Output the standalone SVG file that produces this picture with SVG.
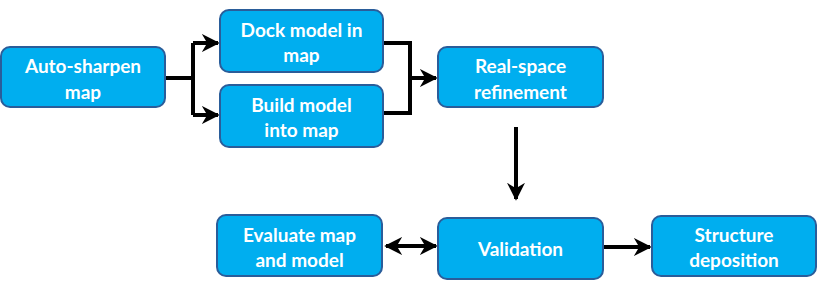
<svg xmlns="http://www.w3.org/2000/svg" width="818" height="291" viewBox="0 0 818 291">
  <style>
    .box { fill: #00aeef; stroke: #2a5d9a; stroke-width: 2; }
    .lbl { fill: #ffffff; font-family: Lato, "Open Sans", "Liberation Sans", sans-serif; font-weight: bold; font-size: 19px; text-anchor: middle; }
    .wire { fill: none; stroke: #000000; stroke-width: 4; }
  </style>
  <defs>
    <marker id="head" viewBox="0 0 10 10" refX="9" refY="5" markerWidth="4.5" markerHeight="4.5" orient="auto-start-reverse" markerUnits="strokeWidth">
      <path d="M0,0 L10,5 L0,10 L3,5 Z" fill="#000000"/>
    </marker>
  </defs>
  <rect width="818" height="291" fill="#ffffff"/>

  <g id="connectors">
    <!-- split from auto-sharpen into the two model paths -->
    <path class="wire" d="M165,78 H193"/>
    <path class="wire" d="M193,43 V115"/>
    <path class="wire" d="M193,43 H218" marker-end="url(#head)"/>
    <path class="wire" d="M193,115 H218" marker-end="url(#head)"/>
    <!-- merge into refinement -->
    <path class="wire" d="M383,43 H410 V113 H383"/>
    <path class="wire" d="M410,78 H436" marker-end="url(#head)"/>
    <!-- refinement down to validation -->
    <path class="wire" d="M516,127 V199" marker-end="url(#head)"/>
    <!-- evaluate <-> validation -->
    <path class="wire" d="M386,246 H436" marker-start="url(#head)" marker-end="url(#head)"/>
    <!-- validation to deposition -->
    <path class="wire" d="M603,247 H650" marker-end="url(#head)"/>
  </g>

  <g id="auto-sharpen">
    <rect class="box" x="1" y="47" width="164" height="60" rx="9"/>
    <text class="lbl" x="83" y="73">Auto-sharpen</text>
    <text class="lbl" x="83" y="99">map</text>
  </g>
  <g id="dock-model">
    <rect class="box" x="220" y="10" width="163" height="62" rx="9"/>
    <text class="lbl" x="301.5" y="37">Dock model in</text>
    <text class="lbl" x="301.5" y="62">map</text>
  </g>
  <g id="build-model">
    <rect class="box" x="220" y="85" width="163" height="62" rx="9"/>
    <text class="lbl" x="301.5" y="112">Build model</text>
    <text class="lbl" x="301.5" y="137">into map</text>
  </g>
  <g id="refinement">
    <rect class="box" x="438" y="47" width="165" height="60" rx="9"/>
    <text class="lbl" x="520.5" y="73">Real-space</text>
    <text class="lbl" x="520.5" y="99">refinement</text>
  </g>
  <g id="evaluate">
    <rect class="box" x="217" y="215" width="165" height="61" rx="9"/>
    <text class="lbl" x="299.5" y="242">Evaluate map</text>
    <text class="lbl" x="299.5" y="267">and model</text>
  </g>
  <g id="validation">
    <rect class="box" x="438" y="218" width="165" height="61" rx="9"/>
    <text class="lbl" x="520.5" y="256">Validation</text>
  </g>
  <g id="deposition">
    <rect class="box" x="652" y="216" width="164" height="60" rx="9"/>
    <text class="lbl" x="734" y="242">Structure</text>
    <text class="lbl" x="734" y="267">deposition</text>
  </g>
</svg>
